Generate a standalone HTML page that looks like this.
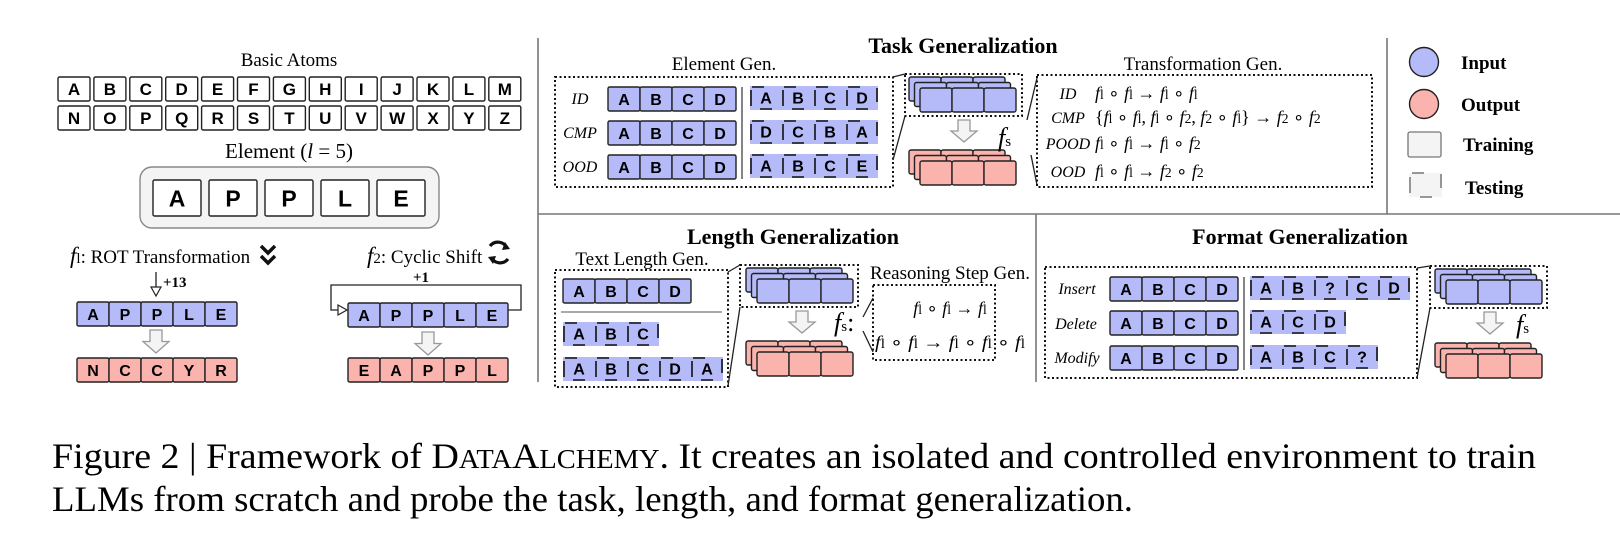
<!DOCTYPE html>
<html><head><meta charset="utf-8">
<style>
html,body{margin:0;padding:0;background:#fff;}
svg{display:block;}
.s{font-family:"Liberation Serif",serif;}
.a{font-family:"Liberation Sans",sans-serif;font-weight:bold;}
</style></head>
<body>
<svg id="g" xmlns="http://www.w3.org/2000/svg" width="1620" height="545" viewBox="0 0 1620 545"></svg>
<script>
const B='#b5baf9',R='#fbb3ae';
let o='';
function cell(x,y,w,h,f,t,fs,rx){o+=`<rect x="${x}" y="${y}" width="${w}" height="${h}" rx="${rx||1.5}" fill="${f}" stroke="#222" stroke-width="1.4"/>`;
 if(t)o+=`<text x="${x+w/2}" y="${y+h/2+fs*0.36}" text-anchor="middle" class="a" font-size="${fs}">${t}</text>`;}
function row(x,y,letters,f,w,h,fs){w=w||32;h=h||24;fs=fs||16;for(let i=0;i<letters.length;i++)cell(x+i*w,y,w,h,f,letters[i],fs);}
function trow(x,y,letters){const w=32,h=24;o+=`<rect x="${x}" y="${y}" width="${w*letters.length}" height="${h}" fill="${B}"/>`;
 for(let i=0;i<letters.length;i++){const cx=x+i*w;
  o+=`<path d="M${cx+1} ${y+4}V${y+20} M${cx+2} ${y+1}H${cx+14} M${cx+10} ${y+23}H${cx+22}" stroke="#111" stroke-width="1.6" fill="none"/>`;
  o+=`<text x="${cx+w/2}" y="${y+17.5}" text-anchor="middle" class="a" font-size="16">${letters[i]}</text>`;}
 const ex=x+w*letters.length;o+=`<path d="M${ex-1} ${y+2}V${y+16}" stroke="#111" stroke-width="1.6"/>`;}
function txt(x,y,t,fs,anc,extra){o+=`<text x="${x}" y="${y}" class="s" font-size="${fs}" text-anchor="${anc||'start'}" ${extra||''}>${t}</text>`;}
function dbox(x,y,w,h){o+=`<rect x="${x}" y="${y}" width="${w}" height="${h}" fill="none" stroke="#111" stroke-width="2" stroke-dasharray="2 2.5"/>`;}
function line(x1,y1,x2,y2,c,sw){o+=`<line x1="${x1}" y1="${y1}" x2="${x2}" y2="${y2}" stroke="${c||'#222'}" stroke-width="${sw||1.3}"/>`;}
function harrow(cx,y,h){o+=`<path d="M${cx-6} ${y}H${cx+6}V${y+h*0.5}H${cx+13}L${cx} ${y+h}L${cx-13} ${y+h*0.5}H${cx-6}Z" fill="#f4f4f4" stroke="#999" stroke-width="1.3"/>`;}
function stack(x,y,f){for(let k=0;k<3;k++){for(let i=0;i<3;i++)cell(x+k*5.5+i*32,y+k*5.5,32,24,f,'',0,2);}}
function F(s){return `<tspan font-style="italic">f</tspan><tspan font-size="0.75em">${s}</tspan>`;}

// Left panel
txt(289,66,'Basic Atoms',19,'middle');
const L1='ABCDEFGHIJKLM',L2='NOPQRSTUVWXYZ';
for(let i=0;i<13;i++){cell(58+i*35.9,77,32,24,'#fff',L1[i],17);cell(58+i*35.9,106,32,24,'#fff',L2[i],17);}
txt(289,158,'Element (<tspan font-style="italic">l</tspan> = 5)',21,'middle');
o+=`<rect x="140" y="167" width="299" height="61" rx="12" fill="#f4f4f4" stroke="#888" stroke-width="1.4"/>`;
'APPLE'.split('').forEach((c,i)=>cell(153+i*56,180,48,36,'#fff',c,23));
txt(70,263,'<tspan font-style="italic" font-size="23">f</tspan><tspan font-size="15">l</tspan>: ROT Transformation',19);
o+=`<path d="M261 246l7 7 7-7 M261 256l7 7 7-7" stroke="#111" stroke-width="3.5" fill="none"/>`;
line(156,272,156,292,'#222',1.3);o+=`<path d="M151 287l5 9 5-9z" fill="#fff" stroke="#222" stroke-width="1.2"/>`;
txt(163,287,'+13',15,'start','font-weight="bold"');
row(77,302,'APPLE',B);harrow(156,330,23);row(77,358,'NCCYR',R);
txt(367,263,'<tspan font-style="italic" font-size="23">f</tspan><tspan font-size="15">2</tspan>: Cyclic Shift',19);
o+=`<path d="M490 246a10 10 0 0 1 17 2 M508 259a10 10 0 0 1 -17 -2" stroke="#111" stroke-width="3.2" fill="none"/><path d="M505 242l5 7-8 1z M493 264l-5-7 8-1z" fill="#111"/>`;
txt(421,282,'+1',15,'middle','font-weight="bold"');
o+=`<path d="M508 310H521V285H331V310H340" stroke="#222" stroke-width="1.3" fill="none"/><path d="M338 305l9 5-9 5z" fill="#fff" stroke="#222" stroke-width="1.2"/>`;
row(348,303,'APPLE',B);harrow(428,332,23);row(348,358,'EAPPL',R);

// dividers
line(538,38,538,382,'#777',1.6);
line(538,214,1620,214,'#777',1.6);
line(1387,38,1387,214,'#777',1.6);
line(1036,214,1036,382,'#777',1.6);

// Task generalization
txt(963,53,'Task Generalization',22,'middle','font-weight="bold"');
txt(724,70,'Element Gen.',19,'middle');
dbox(555,77,338,110);
txt(580,104,'ID',16,'middle','font-style="italic"');txt(580,138,'CMP',16,'middle','font-style="italic"');txt(580,172,'OOD',16,'middle','font-style="italic"');
row(608,87,'ABCD',B);row(608,121,'ABCD',B);row(608,155,'ABCD',B);
line(742,87,742,179,'#777',1.8);
trow(750,86,'ABCD');trow(750,120,'DCBA');trow(750,154,'ABCE');
dbox(905,74,117,42);
line(893,77,905,74);line(893,160,905,116);
stack(909,77,B);harrow(964,120,22);stack(909,150,R);
txt(998,146,'<tspan font-style="italic">f</tspan><tspan font-size="15">s</tspan>',26);
line(1027,120,1037,78);line(1031,155,1037,185);
txt(1203,70,'Transformation Gen.',19,'middle');
dbox(1037,75,335,112);
const ex=(y,lab,e)=>{txt(1068,y,lab,16,'middle','font-style="italic"');txt(1095,y,e,18);};
ex(99,'ID',`${F('l')} ∘ ${F('l')} → ${F('l')} ∘ ${F('l')}`);
ex(123,'CMP',`{${F('l')} ∘ ${F('l')}, ${F('l')} ∘ ${F('2')}, ${F('2')} ∘ ${F('l')}} → ${F('2')} ∘ ${F('2')}`);
ex(149,'POOD',`${F('l')} ∘ ${F('l')} → ${F('l')} ∘ ${F('2')}`);
ex(177,'OOD',`${F('l')} ∘ ${F('l')} → ${F('2')} ∘ ${F('2')}`);

// Legend
o+=`<circle cx="1424" cy="62" r="14.5" fill="${B}" stroke="#222" stroke-width="1.4"/><circle cx="1424" cy="104" r="14.5" fill="${R}" stroke="#222" stroke-width="1.4"/>`;
o+=`<rect x="1408" y="132" width="33" height="25" rx="2" fill="#f4f4f4" stroke="#777" stroke-width="1.3"/>`;
o+=`<rect x="1409" y="173" width="33" height="24" fill="#f4f4f4"/><path d="M1410 177V193 M1412 173H1424 M1420 197H1432 M1441 174V188" stroke="#777" stroke-width="1.5"/>`;
txt(1461,69,'Input',19,'start','font-weight="bold"');txt(1461,111,'Output',19,'start','font-weight="bold"');
txt(1463,151,'Training',19,'start','font-weight="bold"');txt(1465,194,'Testing',19,'start','font-weight="bold"');

// Length generalization
txt(793,244,'Length Generalization',22,'middle','font-weight="bold"');
txt(642,265,'Text Length Gen.',19,'middle');
dbox(555,270,173,117);
row(563,279,'ABCD',B);line(561,312,722,312,'#555',1);
trow(563,322,'ABC');trow(563,357,'ABCDA');
dbox(740,265,118,42);
line(728,272,740,265);line(728,386,740,307);
stack(746,268,B);harrow(802,311,22);stack(746,341,R);
txt(834,331,'<tspan font-style="italic">f</tspan><tspan font-size="15">s</tspan>:',26);
line(863,317,873,298);line(863,331,873,352);
txt(950,279,'Reasoning Step Gen.',19,'middle');
dbox(873,285,122,75);
txt(950,314,`${F('l')} ∘ ${F('l')} → ${F('l')}`,18,'middle');
txt(875,348,`${F('l')} ∘ ${F('l')} → ${F('l')}  ∘ ${F('l')} ∘ ${F('l')}`,18,'start','textLength="150" lengthAdjust="spacingAndGlyphs"');

// Format generalization
txt(1300,244,'Format Generalization',22,'middle','font-weight="bold"');
dbox(1045,267,372,111);
txt(1077,294,'Insert',16,'middle','font-style="italic"');txt(1076,329,'Delete',16,'middle','font-style="italic"');txt(1077,363,'Modify',16,'middle','font-style="italic"');
row(1110,277,'ABCD',B);row(1110,311,'ABCD',B);row(1110,346,'ABCD',B);
line(1244,277,1244,370,'#777',1.8);
trow(1250,276,'AB?CD');trow(1250,310,'ACD');trow(1250,345,'ABC?');
dbox(1430,266,117,42);
line(1417,268,1430,266);line(1417,378,1430,308);
stack(1435,269,B);harrow(1490,312,22);stack(1435,343,R);
txt(1516,333,'<tspan font-style="italic">f</tspan><tspan font-size="15">s</tspan>',26);

// caption
txt(52,468,'Figure 2 | Framework of D<tspan font-size="27">ATA</tspan>A<tspan font-size="27">LCHEMY</tspan>. It creates an isolated and controlled environment to train',36,'start','textLength="1484" lengthAdjust="spacingAndGlyphs"');
txt(52,511,'LLMs from scratch and probe the task, length, and format generalization.',36,'start','textLength="1081" lengthAdjust="spacingAndGlyphs"');
document.getElementById('g').innerHTML=o;
</script>
</body></html>
